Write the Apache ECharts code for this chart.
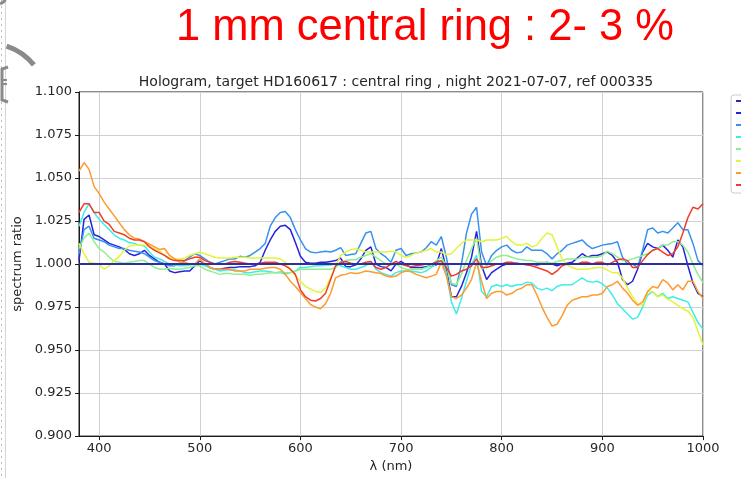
<!DOCTYPE html>
<html>
<head>
<meta charset="utf-8">
<script src="https://cdn.jsdelivr.net/npm/echarts@6/dist/echarts.min.js"></script>
<style>
  html, body { margin: 0; padding: 0; background: #ffffff; }
  #chart { width: 741px; height: 478px; }
</style>
</head>
<body>
<div id="chart"></div>
<script>
// Wavelength samples (nm)
const lambdaNm = [
  380,385,390,395,400,405,410,415,420,425,430,435,440,445,450,455,460,465,470,475,
  480,485,490,495,500,505,510,515,520,525,530,535,540,545,550,555,560,565,570,575,
  580,585,590,595,600,605,610,615,620,625,630,635,640,645,650,655,660,665,670,675,
  680,685,690,695,700,705,710,715,720,725,730,735,740,745,750,755,760,765,770,775,
  780,785,790,795,800,805,810,815,820,825,830,835,840,845,850,855,860,865,870,875,
  880,885,890,895,900,905,910,915,920,925,930,935,940,945,950,955,960,965,970,975,
  980,985,990,995,1000
];

// Reference exposure divided by itself: flat ratio
const refLambda = [380, 1000];
const refRatio = [1.000, 1.000];

const ratioBlue = [
  1.002,1.026,1.0285,1.017,1.016,1.014,1.012,1.011,1.010,1.0085,1.006,1.005,1.006,1.008,1.005,1.003,1.001,1.000,0.996,0.995,
  0.9955,0.996,0.996,0.999,1.002,1.000,0.998,0.997,0.997,0.9975,0.998,0.998,0.9985,0.9985,0.9985,0.999,1.001,1.008,1.014,1.019,
  1.022,1.0225,1.020,1.0125,1.0045,1.001,1.0005,1.0005,1.001,1.001,1.0015,1.002,1.0035,0.9985,0.9985,0.9995,1.003,1.008,1.010,1.000,
  0.9985,0.998,0.996,1.000,1.0015,0.9995,0.998,0.998,0.998,0.9985,0.999,0.9995,1.009,0.997,0.981,0.981,0.987,0.995,1.004,1.019,
  0.999,0.991,0.995,0.997,0.999,1.000,1.0005,1.0005,1.000,1.000,1.000,0.9995,1.000,1.001,1.000,0.999,1.000,1.0005,1.001,1.0035,
  1.006,1.004,1.005,1.005,1.006,1.007,1.005,1.001,0.991,0.988,0.990,0.997,1.007,1.012,1.010,1.009,1.011,1.008,1.004,1.014,
  1.010,0.999,0.989,0.983,0.981
];

const ratioSky = [
  1.006,1.020,1.022,1.015,1.014,1.013,1.011,1.010,1.009,1.009,1.008,1.0075,1.007,1.006,1.004,1.002,1.001,1.000,0.999,0.999,
  1.000,1.002,1.004,1.006,1.005,1.003,1.001,1.000,1.001,1.002,1.003,1.003,1.0045,1.004,1.005,1.007,1.009,1.012,1.022,1.027,
  1.030,1.0305,1.027,1.020,1.014,1.009,1.007,1.0065,1.007,1.0075,1.007,1.008,1.0095,1.005,1.0055,1.006,1.012,1.018,1.019,1.009,
  1.006,1.004,1.001,1.008,1.009,1.005,1.006,1.0065,1.007,1.0095,1.013,1.011,1.016,1.004,0.988,0.987,1.000,1.018,1.029,1.033,
  1.007,0.999,1.005,1.008,1.010,1.011,1.008,1.0065,1.007,1.010,1.008,1.008,1.008,1.006,1.003,1.006,1.008,1.011,1.012,1.013,
  1.014,1.011,1.009,1.010,1.011,1.0115,1.012,1.013,1.004,1.000,1.000,0.998,1.008,1.020,1.021,1.018,1.019,1.018,1.021,1.024,
  1.020,1.020,1.012,1.002,0.999
];

const ratioCyan = [
  1.022,1.030,1.035,1.030,1.026,1.023,1.020,1.017,1.015,1.014,1.0125,1.012,1.011,1.0105,1.007,1.004,1.003,1.0015,1.000,0.9995,
  0.999,0.999,0.9995,1.000,1.000,0.999,0.998,0.997,0.996,0.9965,0.9965,0.9965,0.996,0.995,0.995,0.9955,0.996,0.996,0.9955,0.995,
  0.995,0.994,0.995,0.996,0.998,0.998,0.9985,0.999,0.999,0.9993,0.9995,1.000,0.999,0.998,0.997,0.997,0.998,0.999,1.0015,0.997,
  0.995,0.994,0.993,0.995,0.996,0.996,0.996,0.9955,0.995,0.996,0.998,1.000,1.002,0.995,0.978,0.971,0.980,0.990,1.000,1.005,
  0.984,0.981,0.987,0.988,0.987,0.988,0.987,0.988,0.988,0.9895,0.989,0.986,0.985,0.986,0.9845,0.987,0.988,0.988,0.988,0.990,
  0.992,0.990,0.9895,0.990,0.9885,0.986,0.982,0.977,0.974,0.971,0.968,0.969,0.975,0.982,0.984,0.981,0.983,0.980,0.981,0.980,
  0.979,0.978,0.972,0.966,0.962
];

const ratioGreen = [
  1.009,1.015,1.018,1.013,1.009,1.007,1.004,1.0015,1.001,1.0005,1.001,1.0015,1.002,1.002,1.000,0.998,0.997,0.997,0.9975,0.997,
  0.997,0.9975,0.998,0.999,0.999,0.997,0.996,0.995,0.994,0.9945,0.9945,0.994,0.994,0.994,0.9935,0.994,0.994,0.9945,0.995,0.995,
  0.9955,0.995,0.995,0.996,0.997,0.997,0.997,0.997,0.997,0.997,0.997,0.998,1.001,1.002,1.0025,1.0025,1.004,1.005,1.006,1.004,
  1.002,1.000,0.9995,1.000,0.998,0.997,0.997,0.997,0.997,0.998,0.999,1.002,1.004,0.999,0.989,0.988,0.994,1.002,1.009,1.015,
  0.997,0.999,1.002,1.004,1.005,1.005,1.004,1.003,1.0025,1.002,1.002,1.001,1.001,1.001,1.0005,1.0015,1.002,1.003,1.003,1.003,
  1.004,1.004,1.004,1.004,1.005,1.0074,1.006,1.004,1.002,1.002,1.003,1.004,1.005,1.006,1.008,1.009,1.011,1.011,1.013,1.013,
  1.011,1.007,1.000,0.994,0.989
];

const ratioYellow = [
  1.012,1.006,1.001,1.0005,1.000,0.997,0.999,1.002,1.0045,1.008,1.0105,1.011,1.011,1.011,1.010,1.009,1.0075,1.005,1.0035,1.003,
  1.003,1.0035,1.005,1.006,1.007,1.006,1.005,1.004,1.0035,1.0035,1.0035,1.004,1.004,1.004,1.0035,1.0035,1.0035,1.0035,1.0035,1.0035,
  1.003,1.001,0.997,0.993,0.990,0.987,0.9855,0.984,0.9835,0.986,0.992,0.999,1.005,1.007,1.0084,1.0088,1.008,1.007,1.007,1.007,
  1.007,1.007,1.0075,1.007,1.005,1.004,1.005,1.0065,1.007,1.008,1.009,1.007,1.007,1.0055,1.006,1.009,1.012,1.014,1.014,1.014,
  1.013,1.014,1.014,1.014,1.015,1.016,1.013,1.011,1.011,1.012,1.010,1.011,1.015,1.018,1.017,1.010,1.003,0.9995,0.998,0.997,
  0.997,0.997,0.9975,0.998,0.998,0.9965,0.995,0.995,0.992,0.986,0.981,0.977,0.976,0.984,0.984,0.981,0.982,0.9795,0.978,0.976,
  0.974,0.9727,0.969,0.961,0.953
];

const ratioOrange = [
  1.054,1.059,1.055,1.045,1.041,1.036,1.032,1.028,1.024,1.020,1.017,1.015,1.0145,1.013,1.0115,1.010,1.0085,1.009,1.005,1.003,
  1.001,1.001,1.000,1.000,1.003,1.000,0.998,0.997,0.997,0.997,0.997,0.996,0.996,0.996,0.997,0.997,0.997,0.9975,0.998,0.998,
  0.997,0.994,0.990,0.987,0.9835,0.980,0.9765,0.975,0.974,0.977,0.983,0.992,0.9935,0.994,0.995,0.9945,0.995,0.996,0.9955,0.995,
  0.9945,0.993,0.9925,0.993,0.995,0.996,0.9955,0.994,0.993,0.992,0.993,0.994,1.001,0.993,0.981,0.980,0.982,0.986,0.991,1.001,
  0.990,0.980,0.983,0.984,0.984,0.982,0.983,0.985,0.986,0.988,0.988,0.982,0.975,0.969,0.964,0.965,0.970,0.976,0.979,0.980,
  0.981,0.981,0.982,0.982,0.983,0.987,0.988,0.990,0.986,0.983,0.979,0.976,0.978,0.984,0.987,0.986,0.991,0.989,0.985,0.988,
  0.985,0.990,0.990,0.984,0.980
];

const ratioRed = [
  1.030,1.035,1.035,1.030,1.030,1.025,1.023,1.019,1.018,1.017,1.015,1.014,1.014,1.013,1.010,1.008,1.0065,1.005,1.003,1.002,
  1.002,1.002,1.003,1.004,1.004,1.002,1.001,1.000,1.000,1.000,1.001,1.0015,1.001,1.0005,1.000,1.000,1.0005,1.001,1.001,1.001,
  1.000,0.999,0.997,0.994,0.985,0.981,0.979,0.9785,0.980,0.983,0.991,0.999,1.001,1.0015,1.0005,1.000,1.000,1.001,1.0015,0.998,
  0.997,0.998,1.000,1.0015,1.000,0.999,0.9985,0.999,0.9995,1.000,1.000,1.001,1.002,0.998,0.993,0.994,0.996,0.997,0.999,1.003,
  0.998,0.998,0.999,1.000,1.000,1.001,1.001,1.000,1.000,0.9995,0.999,0.998,0.997,0.996,0.994,0.996,0.999,1.000,1.000,1.000,
  1.001,1.001,1.000,1.001,1.001,0.9995,1.001,1.0025,1.003,1.002,0.998,0.998,1.002,1.0055,1.008,1.009,1.007,1.005,1.006,1.010,
  1.018,1.027,1.033,1.032,1.035
];

const xTicks = [400, 500, 600, 700, 800, 900, 1000];
const yTicks = [0.900, 0.925, 0.950, 0.975, 1.000, 1.025, 1.050, 1.075, 1.100];

const curves = [
  { name: 'spectrum 0', x: refLambda, y: refRatio,    color: '#2e2e9c', width: 2,   z: 9 },
  { name: 'spectrum 1', x: lambdaNm,  y: ratioBlue,   color: '#2424dc', width: 1.5, z: 3 },
  { name: 'spectrum 2', x: lambdaNm,  y: ratioSky,    color: '#3592f0', width: 1.5, z: 3 },
  { name: 'spectrum 3', x: lambdaNm,  y: ratioCyan,   color: '#3eeee6', width: 1.5, z: 3 },
  { name: 'spectrum 4', x: lambdaNm,  y: ratioGreen,  color: '#8ef08e', width: 1.5, z: 3 },
  { name: 'spectrum 5', x: lambdaNm,  y: ratioYellow, color: '#e4f43a', width: 1.5, z: 3 },
  { name: 'spectrum 6', x: lambdaNm,  y: ratioOrange, color: '#ff9a2e', width: 1.5, z: 3 },
  { name: 'spectrum 7', x: lambdaNm,  y: ratioRed,    color: '#f23c2a', width: 1.5, z: 3 }
];

const FONT = 'DejaVu Sans';
const INK = '#262626';
const SLIDE_GREY = '#8a8a8a';

const chart = echarts.init(document.getElementById('chart'), null, { renderer: 'canvas' });

chart.setOption({
  animation: false,
  backgroundColor: '#ffffff',
  title: {
    text: 'Hologram, target HD160617 : central ring , night 2021-07-07, ref 000335',
    left: 391, top: 70, textAlign: 'center',
    textStyle: { fontFamily: FONT, fontSize: 14, fontWeight: 'normal', color: INK }
  },
  legend: {
    orient: 'vertical',
    left: 731, top: 95,
    padding: [1, 4, 3, 4],
    itemWidth: 22, itemHeight: 10, itemGap: 2,
    borderColor: '#cccccc', borderWidth: 1, borderRadius: 3,
    backgroundColor: 'rgba(255,255,255,0.8)',
    textStyle: { fontFamily: FONT, fontSize: 10, color: INK },
    data: curves.map(c => c.name)
  },
  grid: {
    left: 79, right: 38, top: 92, bottom: 40,
    show: true, borderColor: '#1a1a1a', borderWidth: 1, backgroundColor: 'transparent'
  },
  xAxis: {
    type: 'value', min: 380, max: 1000, splitNumber: 6,
    name: 'λ (nm)', nameLocation: 'middle', nameGap: 22,
    nameTextStyle: { fontFamily: FONT, fontSize: 13, color: INK },
    axisLine: { show: true, lineStyle: { color: '#1a1a1a', width: 1 } },
    axisTick: { show: true, length: 4, customValues: xTicks, lineStyle: { color: '#1a1a1a' } },
    axisLabel: {
      customValues: xTicks, margin: 6, fontFamily: FONT, fontSize: 13, color: INK,
      formatter: v => String(v)
    },
    splitLine: { show: true, lineStyle: { color: '#d0d0d0', width: 1 } }
  },
  yAxis: {
    type: 'value', min: 0.9, max: 1.1, interval: 0.025,
    name: 'spectrum ratio', nameLocation: 'middle', nameGap: 42,
    nameTextStyle: { fontFamily: FONT, fontSize: 13, color: INK },
    axisLine: { show: true, lineStyle: { color: '#1a1a1a', width: 1 } },
    axisTick: { show: true, length: 4, customValues: yTicks, lineStyle: { color: '#1a1a1a' } },
    axisLabel: {
      customValues: yTicks, margin: 7, fontFamily: FONT, fontSize: 13, color: INK,
      formatter: v => v.toFixed(3)
    },
    splitLine: { show: true, lineStyle: { color: '#d0d0d0', width: 1 } }
  },
  series: curves.map(c => ({
    name: c.name,
    type: 'line',
    showSymbol: false,
    symbol: 'none',
    z: c.z,
    color: c.color,
    lineStyle: { color: c.color, width: c.width },
    data: c.x.map((lam, i) => [lam, c.y[i]])
  })),
  graphic: [
    // red headline above the plot
    {
      type: 'text', z: 20,
      style: {
        x: 425, y: 28, align: 'center', verticalAlign: 'middle',
        text: '1 mm central ring : 2- 3 %',
        fontFamily: 'Liberation Sans', fontSize: 43.5, fill: '#ff0000'
      }
    },
    // slide margin: light rule and dotted guide
    { type: 'line', z: 1, shape: { x1: 5.5, y1: 0, x2: 5.5, y2: 478 }, style: { stroke: '#d6d6d6', lineWidth: 1 } },
    { type: 'line', z: 1, shape: { x1: 1.5, y1: 0, x2: 1.5, y2: 478 }, style: { stroke: '#bdbdbd', lineWidth: 1, lineDash: [2, 4] } },
    // slide decoration: grey arc and bracket glyph at the top-left
    { type: 'arc', z: 2, shape: { cx: -12, cy: 102, r: 59, startAngle: -1.25, endAngle: -0.68 }, style: { stroke: SLIDE_GREY, lineWidth: 5, fill: null } },
    { type: 'polyline', z: 2, shape: { points: [[8, 67], [2, 69], [2, 100], [8, 102]] }, style: { stroke: SLIDE_GREY, lineWidth: 3, fill: null } },
    { type: 'line', z: 2, shape: { x1: 2, y1: 80, x2: 7, y2: 80 }, style: { stroke: SLIDE_GREY, lineWidth: 2 } },
    { type: 'line', z: 2, shape: { x1: 2, y1: 84, x2: 7, y2: 84 }, style: { stroke: SLIDE_GREY, lineWidth: 2 } },
    { type: 'arc', z: 2, shape: { cx: -2, cy: -4, r: 8, startAngle: 0.2, endAngle: 1.3 }, style: { stroke: SLIDE_GREY, lineWidth: 3, fill: null } }
  ]
});
</script>
</body>
</html>
